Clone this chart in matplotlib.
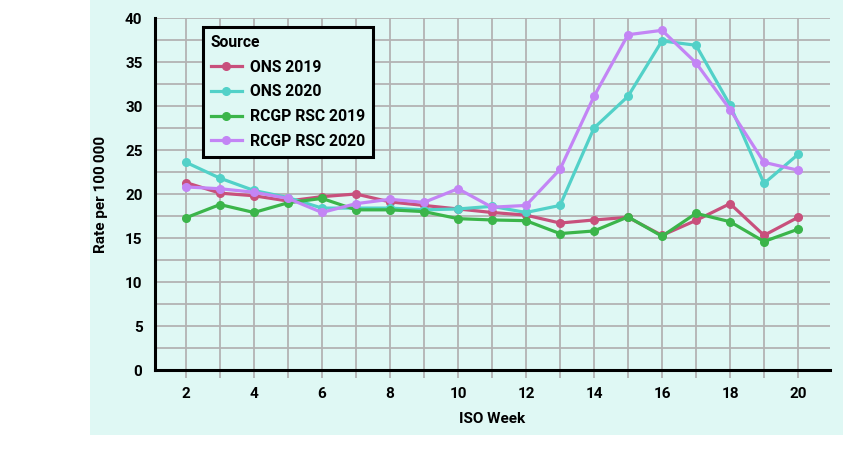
import matplotlib
matplotlib.use('Agg')
import matplotlib.pyplot as plt
from matplotlib.patches import Rectangle
from matplotlib.ticker import MultipleLocator

plt.rcParams['font.family'] = ['Roboto', 'DejaVu Sans']

weeks = list(range(2, 21))
ons_2019 = [21.3, 20.1, 19.8, 19.2, 19.7, 20.0, 19.1, 18.7, 18.3, 17.9, 17.6, 16.7, 17.05, 17.35, 15.3, 17.0, 18.9, 15.3, 17.35]
ons_2020 = [23.6, 21.8, 20.4, 19.6, 18.4, 18.4, 18.4, 18.2, 18.3, 18.6, 17.9, 18.7, 27.5, 31.1, 37.4, 36.9, 30.1, 21.2, 24.5]
rcgp_2019 = [17.3, 18.8, 17.9, 19.0, 19.5, 18.2, 18.2, 18.0, 17.2, 17.05, 16.97, 15.5, 15.8, 17.4, 15.2, 17.8, 16.85, 14.6, 16.0]
rcgp_2020 = [20.8, 20.6, 20.2, 19.5, 17.9, 18.9, 19.4, 19.05, 20.6, 18.5, 18.7, 22.8, 31.1, 38.1, 38.6, 34.9, 29.6, 23.6, 22.7]

series = [
    ('ONS 2019', ons_2019, '#c8507c'),
    ('ONS 2020', ons_2020, '#52d1c8'),
    ('RCGP RSC 2019', rcgp_2019, '#3bb54a'),
    ('RCGP RSC 2020', rcgp_2020, '#c385f5'),
]

mint = '#dff8f4'
fig = plt.figure(figsize=(8.43, 4.55), dpi=100)
fig.patches.append(Rectangle((90 / 843, 20 / 455), 1 - 90 / 843, 1 - 20 / 455,
                             transform=fig.transFigure, facecolor=mint,
                             edgecolor='none', zorder=-5))

ax = fig.add_axes([155 / 843, 85 / 455, 675 / 843, 352 / 455])
ax.set_facecolor(mint)

for name, vals, col in series:
    ax.plot(weeks, vals, color=col, lw=2.3, marker='o', ms=5.5, label=name, zorder=3)

ax.set_xlim(1.09, 20.94)
ax.set_ylim(0, 40)
ax.xaxis.set_major_locator(MultipleLocator(2))
ax.xaxis.set_minor_locator(MultipleLocator(1))
ax.yaxis.set_major_locator(MultipleLocator(5))
ax.yaxis.set_minor_locator(MultipleLocator(2.5))
ax.grid(which='both', color='#b3b3b3', lw=1.3, zorder=1)
ax.set_axisbelow(True)

ax.tick_params(axis='x', which='both', direction='out', length=6, width=1.3,
               color='#b3b3b3', labelsize=11, pad=6)
ax.tick_params(axis='y', which='both', length=0, labelsize=11, pad=9)
for lab in ax.get_xticklabels() + ax.get_yticklabels():
    lab.set_fontweight('bold')

for s in ['top', 'right']:
    ax.spines[s].set_visible(False)
for s in ['left', 'bottom']:
    ax.spines[s].set_linewidth(2.2)
    ax.spines[s].set_color('black')
    ax.spines[s].set_zorder(4)

ax.set_xlabel('ISO Week', fontsize=11, fontweight='bold', labelpad=8)
ax.set_ylabel('Rate per 100\u2009000', fontsize=11, fontweight='bold', labelpad=12)

leg = ax.legend(title='Source', loc='upper left', bbox_to_anchor=(0.071, 0.974),
                borderaxespad=0, frameon=True, fancybox=False, facecolor=mint,
                edgecolor='black', framealpha=1, prop={'weight': 'bold', 'size': 11.3},
                title_fontproperties={'weight': 'bold', 'size': 11.3},
                handlelength=2.0, handletextpad=0.5, labelspacing=0.62, borderpad=0.5)
leg._legend_box.align = 'left'
leg.get_frame().set_linewidth(2.2)
leg.set_zorder(5)

fig.savefig('out.png', dpi=100)
